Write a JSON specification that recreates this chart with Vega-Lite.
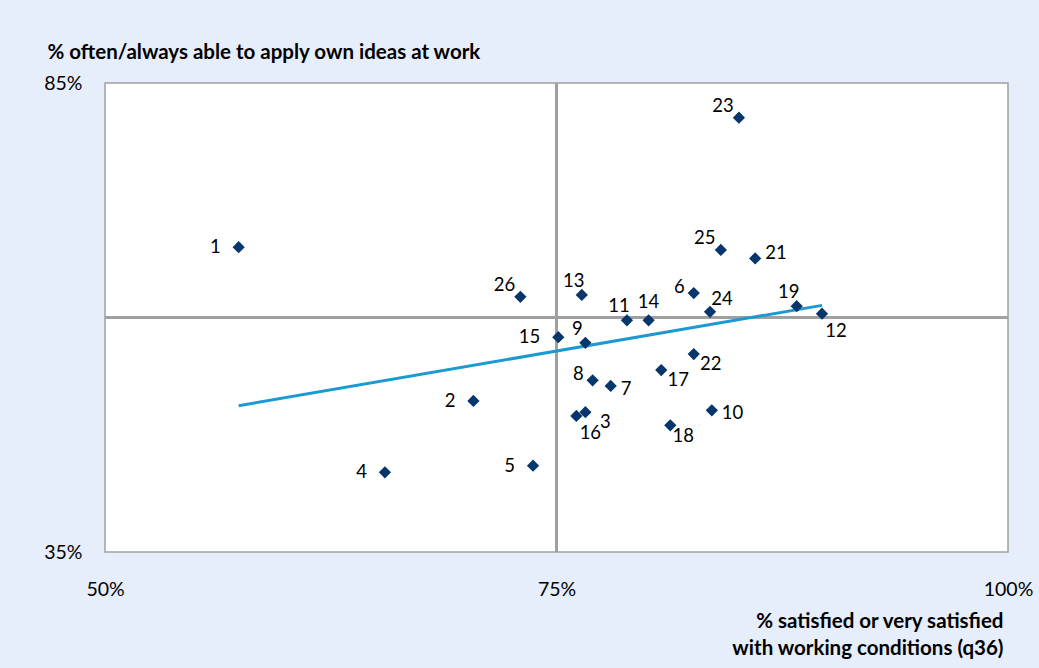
{
  "$schema": "https://vega.github.io/schema/vega-lite/v6.json",
  "width": 903,
  "height": 469,
  "autosize": {"type": "none"},
  "padding": {"left": 105, "top": 83, "right": 31, "bottom": 116},
  "background": "#e6edfb",
  "config": {
    "view": {"fill": "white", "stroke": "#a0a0a0", "strokeWidth": 1.5},
    "font": "Lato",
    "text": {"font": "Lato", "fontSize": 18.5, "color": "black"}
  },
  "data": {
    "values": [
      {"id": 1, "sat": 57.4, "ideas": 67.5},
      {"id": 2, "sat": 70.4, "ideas": 51.1},
      {"id": 3, "sat": 76.6, "ideas": 49.9},
      {"id": 4, "sat": 65.5, "ideas": 43.5},
      {"id": 5, "sat": 73.7, "ideas": 44.2},
      {"id": 6, "sat": 82.6, "ideas": 62.6},
      {"id": 7, "sat": 78.0, "ideas": 52.7},
      {"id": 8, "sat": 77.0, "ideas": 53.3},
      {"id": 9, "sat": 76.6, "ideas": 57.3},
      {"id": 10, "sat": 83.6, "ideas": 50.1},
      {"id": 11, "sat": 78.9, "ideas": 59.7},
      {"id": 12, "sat": 89.7, "ideas": 60.4},
      {"id": 13, "sat": 76.4, "ideas": 62.4},
      {"id": 14, "sat": 80.1, "ideas": 59.7},
      {"id": 15, "sat": 75.1, "ideas": 57.9},
      {"id": 16, "sat": 76.1, "ideas": 49.5},
      {"id": 17, "sat": 80.8, "ideas": 54.4},
      {"id": 18, "sat": 81.3, "ideas": 48.5},
      {"id": 19, "sat": 88.3, "ideas": 61.2},
      {"id": 21, "sat": 86.0, "ideas": 66.3},
      {"id": 22, "sat": 82.6, "ideas": 56.1},
      {"id": 23, "sat": 85.1, "ideas": 81.3},
      {"id": 24, "sat": 83.5, "ideas": 60.6},
      {"id": 25, "sat": 84.1, "ideas": 67.2},
      {"id": 26, "sat": 73.0, "ideas": 62.2}
    ]
  },
  "encoding": {
    "x": {
      "field": "sat", "type": "quantitative",
      "scale": {"domain": [50, 100], "nice": false, "zero": false},
      "axis": {
        "values": [50, 75, 100],
        "labelExpr": "datum.value + '%'",
        "grid": false, "domain": false, "ticks": false,
        "labelPadding": 28, "labelFontSize": 19.5, "labelFont": "Lato", "labelColor": "black",
        "labelFlush": false,
        "title": ["% satisfied or very satisfied", "with working conditions (q36)"],
        "titleFont": "Lato", "titleFontSize": 20.5, "titleFontWeight": "bold", "titleColor": "black",
        "titleAlign": "right", "titleAnchor": "end", "titleX": 898, "titleY": 59,
        "titleBaseline": "top", "titleLineHeight": 27
      }
    },
    "y": {
      "field": "ideas", "type": "quantitative",
      "scale": {"domain": [35, 85], "nice": false, "zero": false},
      "axis": {
        "values": [35, 85],
        "labelExpr": "datum.value + '%'",
        "grid": false, "domain": false, "ticks": false,
        "labelPadding": 23, "labelFontSize": 19.5, "labelFont": "Lato", "labelColor": "black",
        "labelFlush": false,
        "title": "% often/always able to apply own ideas at work",
        "titleFont": "Lato", "titleFontSize": 20.5, "titleFontWeight": "bold", "titleColor": "black",
        "titleAngle": 0, "titleAlign": "left", "titleBaseline": "middle",
        "titleX": -58, "titleY": -31
      }
    }
  },
  "layer": [
    {"mark": {"type": "rule", "color": "#a0a0a0", "strokeWidth": 1.5}, "encoding": {"x": {"datum": 75}, "y": null}},
    {"mark": {"type": "rule", "color": "#a0a0a0", "strokeWidth": 1.5}, "encoding": {"y": {"datum": 60}, "x": null}},
    {
      "transform": [{"regression": "ideas", "on": "sat"}],
      "mark": {"type": "line", "color": "#1b9ad2", "strokeWidth": 3}
    },
    {"mark": {"type": "point", "shape": "diamond", "filled": true, "color": "#06366c", "size": 150, "opacity": 1}},
    {
      "transform": [{"filter": {"field": "id", "oneOf": [1, 2, 4, 5, 15]}}],
      "mark": {"type": "text", "align": "right", "baseline": "middle", "dx": -18, "dy": 0},
      "encoding": {"text": {"field": "id"}}
    },
    {
      "transform": [{"filter": {"field": "id", "oneOf": [6, 8]}}],
      "mark": {"type": "text", "align": "right", "baseline": "middle", "dx": -9, "dy": -6},
      "encoding": {"text": {"field": "id"}}
    },
    {
      "transform": [{"filter": {"field": "id", "oneOf": [26, 23, 25]}}],
      "mark": {"type": "text", "align": "center", "baseline": "middle", "dx": -16, "dy": -12},
      "encoding": {"text": {"field": "id"}}
    },
    {
      "transform": [{"filter": {"field": "id", "oneOf": [11, 19, 9, 13]}}],
      "mark": {"type": "text", "align": "center", "baseline": "middle", "dx": -8, "dy": -14},
      "encoding": {"text": {"field": "id"}}
    },
    {
      "transform": [{"filter": {"field": "id", "oneOf": [14]}}],
      "mark": {"type": "text", "align": "center", "baseline": "middle", "dx": 0, "dy": -18},
      "encoding": {"text": {"field": "id"}}
    },
    {
      "transform": [{"filter": {"field": "id", "oneOf": [24]}}],
      "mark": {"type": "text", "align": "center", "baseline": "middle", "dx": 12, "dy": -13},
      "encoding": {"text": {"field": "id"}}
    },
    {
      "transform": [{"filter": {"field": "id", "oneOf": [21]}}],
      "mark": {"type": "text", "align": "left", "baseline": "middle", "dx": 10, "dy": -5},
      "encoding": {"text": {"field": "id"}}
    },
    {
      "transform": [{"filter": {"field": "id", "oneOf": [10, 7]}}],
      "mark": {"type": "text", "align": "left", "baseline": "middle", "dx": 10, "dy": 3},
      "encoding": {"text": {"field": "id"}}
    },
    {
      "transform": [{"filter": {"field": "id", "oneOf": [22, 17]}}],
      "mark": {"type": "text", "align": "center", "baseline": "middle", "dx": 17, "dy": 10},
      "encoding": {"text": {"field": "id"}}
    },
    {
      "transform": [{"filter": {"field": "id", "oneOf": [3]}}],
      "mark": {"type": "text", "align": "center", "baseline": "middle", "dx": 20, "dy": 10},
      "encoding": {"text": {"field": "id"}}
    },
    {
      "transform": [{"filter": {"field": "id", "oneOf": [12, 16]}}],
      "mark": {"type": "text", "align": "center", "baseline": "middle", "dx": 14, "dy": 17},
      "encoding": {"text": {"field": "id"}}
    },
    {
      "transform": [{"filter": {"field": "id", "oneOf": [18]}}],
      "mark": {"type": "text", "align": "center", "baseline": "middle", "dx": 13, "dy": 11},
      "encoding": {"text": {"field": "id"}}
    }
  ]
}
